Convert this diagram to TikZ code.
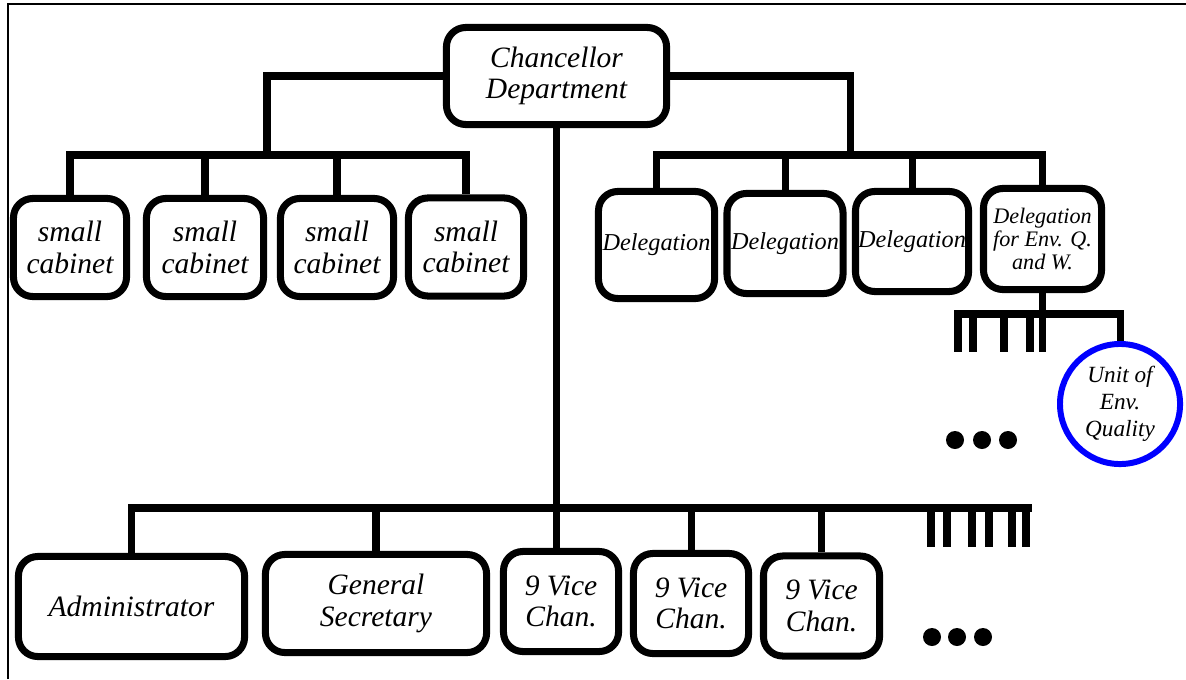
\documentclass[tikz,border=0pt]{standalone}
\usepackage{fontspec}
\setmainfont{Liberation Serif}

\begin{document}
\begin{tikzpicture}[x=0.01cm, y=-0.01cm,
  box/.style={draw, line width=2pt, rounded corners=5.5pt, inner sep=0pt, align=center,
              font=\fontsize{8.4}{8.9}\selectfont\itshape},
  cabbox/.style={box, minimum width=1.13cm, minimum height=0.98cm},
  delbox/.style={box, minimum width=1.16cm, minimum height=1.0cm,
                 font=\fontsize{6.9}{7.5}\selectfont\itshape},
  vicebox/.style={box, minimum width=1.15cm, minimum height=1.0cm},
  link/.style={line width=2pt},
  tickbar/.style={line width=2.3pt},
  unitcircle/.style={circle, draw=blue, line width=1.7pt, minimum size=1.2cm, inner sep=0pt,
                     align=center, font=\fontsize{6.6}{7.7}\selectfont\itshape}
]

\useasboundingbox (0,0) rectangle (1186,679);

% frame
\draw[line width=0.5pt] (8,679) -- (8,4) -- (1186,4);

% boxes
\node[box, minimum width=2.2cm, minimum height=0.97cm] (chan) at (556.5,76) {Chancellor\\Department};

\node[cabbox] (cab1) at (70,247.5) {small\\cabinet};
\node[cabbox, minimum width=1.17cm] (cab2) at (205,247.5) {small\\cabinet};
\node[cabbox] (cab3) at (337,247.5) {small\\cabinet};
\node[cabbox, minimum width=1.15cm] (cab4) at (466,247) {small\\cabinet};

\node[delbox, minimum height=1.07cm] (del1) at (656.5,245) {Delegation};
\node[delbox] (del2) at (785,243.5) {Delegation};
\node[delbox, minimum width=1.13cm] (del3) at (912,241.5) {Delegation};
\node[delbox, minimum width=1.18cm, minimum height=1.01cm,
      font=\fontsize{6.3}{6.45}\selectfont\itshape] (del4) at (1042.5,239) {Delegation\\for Env. Q.\\and W.};

\node[unitcircle] (unit) at (1120,404) {Unit of\\Env.\\Quality};

\node[box, minimum width=2.26cm, minimum height=1.0cm] (admin) at (131.5,606.5) {Administrator};
\node[box, minimum width=2.21cm, minimum height=0.98cm] (gensec) at (376,603.5) {General\\Secretary};
\node[vicebox] (vice1) at (561,601.5) {9 Vice\\Chan.};
\node[vicebox] (vice2) at (691,603.5) {9 Vice\\Chan.};
\node[vicebox, minimum width=1.16cm] (vice3) at (821.5,606) {9 Vice\\Chan.};

% black lines
{
\coordinate (lft) at (267,155);
\coordinate (rgt) at (850,155);
\coordinate (sub) at (954,314);
\coordinate (bot) at (1032,508);

\draw[link] (chan.west) -| (lft);
\draw[link] (cab1.north) |- (cab4.north |- lft) -- (cab4.north);
\draw[link] (cab2.north) -- (cab2.north |- lft);
\draw[link] (cab3.north) -- (cab3.north |- lft);

\draw[link] (chan.east) -| (rgt);
\draw[link] (del1.north) |- (del4.north |- rgt) -- (del4.north);
\draw[link] (del2.north) -- (del2.north |- rgt);
\draw[link] (del3.north) -- (del3.north |- rgt);

\draw[link] (del4.south) -- (del4.south |- 0,352);
\draw[link] (sub) -- (unit.north |- sub) -- (unit.north);
\foreach \x in {958,973,1004,1030}
  \draw[tickbar] (\x,314) -- (\x,352);

\draw[link] (chan.south) -- (chan.south |- vice1.north);
\draw[link] (admin.north) |- (bot);
\draw[link] (gensec.north) -- (gensec.north |- bot);
\draw[link] (vice2.north) -- (vice2.north |- bot);
\draw[link] (vice3.north) -- (vice3.north |- bot);
\foreach \x in {931,947,972,989,1012,1026}
  \draw[tickbar] (\x,508) -- (\x,547);
}

% dots
\foreach \x in {955,982,1008}
  \fill (\x,440) circle [radius=0.09cm];
\foreach \x in {932,957,983}
  \fill (\x,637) circle [radius=0.09cm];

\end{tikzpicture}
\end{document}
